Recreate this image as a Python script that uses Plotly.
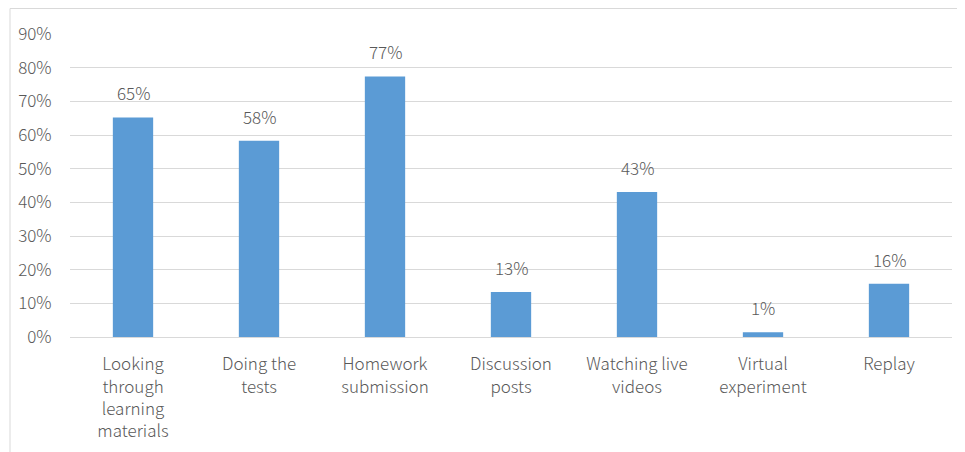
import plotly.graph_objects as go

categories = ["Looking<br>through<br>learning<br>materials", "Doing the<br>tests", "Homework<br>submission",
              "Discussion<br>posts", "Watching live<br>videos", "Virtual<br>experiment", "Replay"]
values = [65.2, 58.3, 77.4, 13.4, 43.1, 1.4, 15.8]
tick_vals = [0, 10, 20, 30, 40, 50, 60, 70, 80, 90]
tick_text = [f"{v}%" for v in tick_vals]

FONT = "Noto Sans CJK SC"
GRAY = "#595959"

fig = go.Figure(go.Bar(x=categories, y=values, marker_color="#5B9BD5", width=0.32,
                       marker_line_width=0))

for c, v in zip(categories, values):
    fig.add_annotation(x=c, y=v, text=f"{round(v)}%", showarrow=False, yanchor="bottom", yshift=10,
                       font=dict(family=FONT, size=17, color=GRAY, weight=300))

# page has an 8px body margin; work in page coordinates and offset
OFF = 8
W, H = 965 - OFF, 452 - OFF
ml, mr, mt = 70 - OFF, 13, 34 - OFF
ph = 337 - 34
mb = H - mt - ph
pw = W - ml - mr
def px(x): return (x - OFF - ml) / pw
def py(y): return 1 - (y - OFF - mt) / ph

fig.update_layout(
    width=W, height=H,
    margin=dict(l=ml, r=mr, t=mt, b=mb, autoexpand=False),
    paper_bgcolor="white", plot_bgcolor="white",
    showlegend=False,
    font=dict(family=FONT, size=17, color=GRAY, weight=300),
    xaxis=dict(showgrid=False, showline=False, ticks="outside", ticklen=12, tickcolor="rgba(0,0,0,0)",
               tickfont=dict(size=17, color=GRAY, weight=300), automargin=False),
    yaxis=dict(range=[0, 90], tickvals=tick_vals, ticktext=tick_text, showgrid=True,
               gridcolor="#d9d9d9", gridwidth=1, zeroline=True, zerolinecolor="#d9d9d9",
               zerolinewidth=1, showline=False, ticks="outside", ticklen=14, tickcolor="rgba(0,0,0,0)",
               tickfont=dict(size=17, color=GRAY, weight=300), automargin=False),
    shapes=[
        dict(type="line", xref="paper", yref="paper", x0=px(10), x1=px(10), y0=py(8.5), y1=py(470),
             line=dict(color="#d9d9d9", width=1)),
        dict(type="line", xref="paper", yref="paper", x0=px(10), x1=px(980), y0=py(8.5), y1=py(8.5),
             line=dict(color="#d9d9d9", width=1)),
    ],
)

fig.write_html("out.html")
